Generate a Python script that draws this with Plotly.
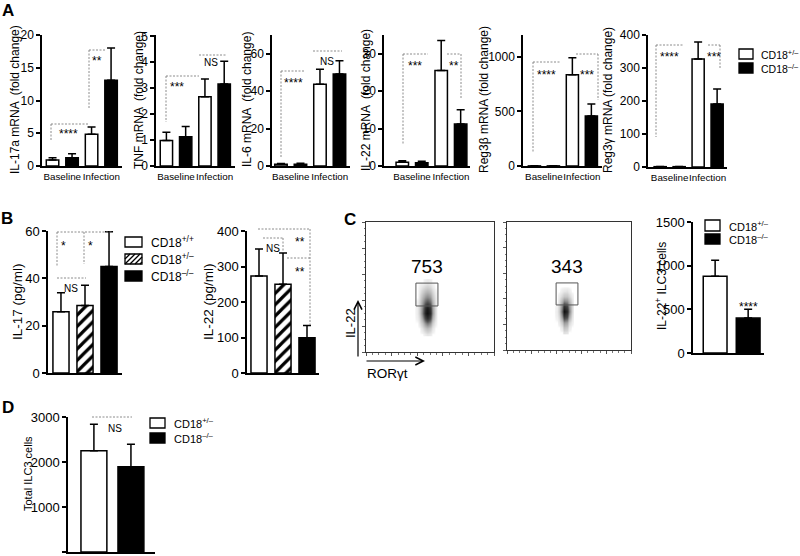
import plotly.graph_objects as go

W, H = 800, 556
def px(x): return x / W
def py(y): return 1 - y / H

FONT = "Liberation Sans, Arial, Helvetica, sans-serif"

# ---------------- data ----------------
GROUPS_A = ["Baseline", "Infection"]

IL17A_HET = [0.9, 4.85];   IL17A_HET_ERR = [0.35, 1.1]
IL17A_KO = [1.27, 13.1];   IL17A_KO_ERR = [0.6, 4.9]
TNF_HET = [0.98, 2.67];    TNF_HET_ERR = [0.32, 0.68]
TNF_KO = [1.13, 3.16];     TNF_KO_ERR = [0.39, 0.88]
IL6_HET = [1.0, 43.7];     IL6_HET_ERR = [0.4, 8.0]
IL6_KO = [1.0, 49.1];      IL6_KO_ERR = [0.5, 7.1]
IL22_HET = [1.0, 25.5];    IL22_HET_ERR = [0.4, 8.0]
IL22_KO = [0.9, 11.2];     IL22_KO_ERR = [0.4, 3.8]
REG3B_HET = [1.0, 835];    REG3B_HET_ERR = [0.5, 156]
REG3B_KO = [1.0, 459];     REG3B_KO_ERR = [0.5, 110]
REG3G_HET = [1.0, 327];    REG3G_HET_ERR = [0.5, 52]
REG3G_KO = [1.0, 191];     REG3G_KO_ERR = [0.5, 45]

GENO_B = ["CD18+/+", "CD18+/–", "CD18–/–"]
IL17_PG = [25.9, 28.5, 45.0];  IL17_PG_ERR = [8.0, 8.6, 14.7]
IL22_PG = [273, 250, 99];      IL22_PG_ERR = [76, 88, 35]

GENO_CD = ["CD18+/–", "CD18–/–"]
IL22_ILC3 = [880, 400];        IL22_ILC3_ERR = [182, 102]
TOTAL_ILC3 = [2250, 1895];     TOTAL_ILC3_ERR = [587, 497]

GATE_COUNTS = ["753", "343"]

# flow density (approximate), rows = FLOW_Y ascending
FLOW_X = [1.9, 2.0, 2.1, 2.2, 2.3, 2.4, 2.5, 2.6, 2.7, 2.8, 2.9]
FLOW_Y = [0.7, 0.9, 1.1, 1.3, 1.5, 1.7, 1.9, 2.1, 2.3, 2.5, 2.7]
FLOW1_Z = [
    [0, 0, 0, 0, .03, .05, .03, 0, 0, 0, 0],
    [0, 0, 0, .06, .16, .20, .14, .04, 0, 0, 0],
    [0, 0, .04, .16, .38, .46, .34, .12, .02, 0, 0],
    [0, .02, .08, .32, .70, .82, .62, .24, .05, 0, 0],
    [0, .03, .12, .45, .92, 1.0, .82, .34, .07, 0, 0],
    [0, .03, .12, .42, .85, .95, .75, .32, .07, 0, 0],
    [0, .02, .10, .32, .55, .62, .50, .24, .05, 0, 0],
    [0, 0, .07, .22, .36, .40, .33, .16, .04, 0, 0],
    [0, 0, .04, .13, .22, .25, .20, .10, .02, 0, 0],
    [0, 0, .02, .06, .10, .12, .09, .04, 0, 0, 0],
    [0, 0, 0, 0, .02, .03, .02, 0, 0, 0, 0],
]
FLOW2_Z = [
    [0, 0, 0, 0, .06, .05, 0, 0, 0, 0, 0],
    [0, 0, 0, .04, .18, .15, .03, 0, 0, 0, 0],
    [0, 0, .03, .14, .35, .30, .10, .02, 0, 0, 0],
    [0, .02, .08, .36, .75, .65, .30, .06, 0, 0, 0],
    [0, .03, .12, .52, 1.0, .85, .45, .10, 0, 0, 0],
    [0, .02, .10, .42, .80, .68, .38, .10, 0, 0, 0],
    [0, 0, .06, .24, .42, .38, .24, .07, 0, 0, 0],
    [0, 0, .03, .10, .16, .16, .10, .03, 0, 0, 0],
    [0, 0, 0, .03, .05, .06, .03, 0, 0, 0, 0],
    [0, 0, 0, 0, 0, 0, 0, 0, 0, 0, 0],
    [0, 0, 0, 0, 0, 0, 0, 0, 0, 0, 0],
]
GATE1 = [1.95, 2.81, 1.77, 2.65]
GATE2 = [1.98, 2.86, 1.76, 2.62]

# ---------------- figure ----------------
fig = go.Figure()
layout = {}

def ref(n):
    return "" if n == 1 else str(n)

def add_bar_axes(n, xdom, ydom, xrange, yrange, dtick, xcats, show_x_labels, tsize):
    layout["xaxis" + ref(n)] = dict(
        domain=[px(xdom[0]), px(xdom[1])], anchor="y" + ref(n), range=xrange,
        type="category", categoryorder="array", categoryarray=xcats,
        showline=True, linecolor="black", linewidth=1.5, ticks="", tickangle=0,
        showgrid=False, zeroline=False, showticklabels=show_x_labels, automargin=False,
        tickfont=dict(size=9.8, color="black"), fixedrange=True)
    layout["yaxis" + ref(n)] = dict(
        domain=[py(ydom[1]), py(ydom[0])], anchor="x" + ref(n), range=yrange,
        dtick=dtick, tick0=0, ticks="outside", ticklen=4, tickwidth=1.5,
        tickcolor="black", showline=True, linecolor="black", linewidth=1.5,
        showgrid=False, zeroline=False, tickfont=dict(size=tsize, color="black"),
        automargin=False, fixedrange=True)

def add_bar(n, x, y, err, fill, width, offset, pattern=None):
    marker = dict(color=fill, line=dict(color="black", width=1.5))
    if pattern:
        marker["pattern"] = pattern
    fig.add_trace(go.Bar(
        x=x, y=y, width=width, offset=offset, marker=marker,
        error_y=dict(type="data", array=err, arrayminus=[0] * len(err),
                     symmetric=False, color="black", thickness=1.5, width=4),
        xaxis="x" + ref(n), yaxis="y" + ref(n), showlegend=False, hoverinfo="skip"))

# Panel A
A_PANELS = [
    (1, (42, 122), (35, 166), [-0.52, 1.53], [0, 20], 5, IL17A_HET, IL17A_HET_ERR, IL17A_KO, IL17A_KO_ERR),
    (2, (156, 235), (35, 166), [-0.52, 1.53], [0, 5.05], 1, TNF_HET, TNF_HET_ERR, TNF_KO, TNF_KO_ERR),
    (3, (272, 350), (35, 166), [-0.48, 1.52], [0, 70], 20, IL6_HET, IL6_HET_ERR, IL6_KO, IL6_KO_ERR),
    (4, (384, 470), (35, 166), [-0.72, 1.49], [0, 35], 10, IL22_HET, IL22_HET_ERR, IL22_KO, IL22_KO_ERR),
    (5, (523, 602), (35, 166), [-0.55, 1.53], [0, 1200], 500, REG3B_HET, REG3B_HET_ERR, REG3B_KO, REG3B_KO_ERR),
    (6, (648, 727), (35, 167), [-0.57, 1.51], [0, 400], 100, REG3G_HET, REG3G_HET_ERR, REG3G_KO, REG3G_KO_ERR),
]
for n, xd, yd, xr, yr, dt, het, heterr, ko, koerr in A_PANELS:
    add_bar_axes(n, xd, yd, xr, yr, dt, GROUPS_A, True, 12)
    add_bar(n, GROUPS_A, het, heterr, "white", 0.32, -0.41)
    add_bar(n, GROUPS_A, ko, koerr, "black", 0.32, 0.09)

# Panel B
HATCH = dict(shape="/", fgcolor="black", bgcolor="white", size=8, solidity=0.4)
B_FILLS = [("white", None), ("white", HATCH), ("black", None)]
for n, xd, xr, yr, dt, vals, errs in [
        (7, (48, 122), [-0.54, 2.54], [0, 60], 20, IL17_PG, IL17_PG_ERR),
        (8, (247, 319), [-0.5, 2.5], [0, 400], 100, IL22_PG, IL22_PG_ERR)]:
    add_bar_axes(n, xd, (231, 373), xr, yr, dt, GENO_B, False, 13)
    for i, g in enumerate(GENO_B):
        add_bar(n, [g], [vals[i]], [errs[i]], B_FILLS[i][0], 0.67, -0.335, B_FILLS[i][1])

# Panel C bar
add_bar_axes(11, (693, 764), (222, 353), [-0.67, 1.48], [0, 1500], 500, GENO_CD, False, 13)
for i, g in enumerate(GENO_CD):
    add_bar(11, [g], [IL22_ILC3[i]], [IL22_ILC3_ERR[i]], ["white", "black"][i], 0.72, -0.36)

# Panel D
add_bar_axes(12, (68, 155), (417, 552), [-0.70, 1.65], [0, 3000], 1000, GENO_CD, False, 13)
for i, g in enumerate(GENO_CD):
    add_bar(12, [g], [TOTAL_ILC3[i]], [TOTAL_ILC3_ERR[i]], ["white", "black"][i], 0.70, -0.35)

# Panel C flow plots
GREYS = [[0, "#ffffff"], [0.01, "#f2f2f2"], [0.1, "#d4d4d4"], [0.3, "#a4a4a4"],
         [0.6, "#505050"], [1, "#101010"]]
for n, xd, yd, z in [(9, (366, 494), (222, 352), FLOW1_Z), (10, (507, 631), (222, 350), FLOW2_Z)]:
    common = dict(range=[0, 5], showline=True, mirror=True, linecolor="#333", linewidth=1,
                  ticks="outside", ticklen=3, tickwidth=1, tickcolor="#555", dtick=1,
                  showticklabels=False, showgrid=False, zeroline=False, fixedrange=True,
                  automargin=False,
                  minor=dict(ticks="outside", ticklen=1.5, tickcolor="#777", dtick=0.25))
    layout["xaxis" + ref(n)] = dict(domain=[px(xd[0]), px(xd[1])], anchor="y" + ref(n), **common)
    layout["yaxis" + ref(n)] = dict(domain=[py(yd[1]), py(yd[0])], anchor="x" + ref(n), **common)
    fig.add_trace(go.Heatmap(x=FLOW_X, y=FLOW_Y, z=z, zsmooth="best", colorscale=GREYS,
                             zmin=0, zmax=1, showscale=False, hoverinfo="skip",
                             xaxis="x" + ref(n), yaxis="y" + ref(n)))

shapes = []
annotations = []

def note(x, y, text, size, angle=0, xanchor="center"):
    annotations.append(dict(xref="paper", yref="paper", x=px(x), y=py(y), text=text,
                            textangle=angle, showarrow=False, xanchor=xanchor,
                            yanchor="middle", font=dict(size=size, color="black")))

# gates and counts
for n, g, cnt in [(9, GATE1, GATE_COUNTS[0]), (10, GATE2, GATE_COUNTS[1])]:
    shapes.append(dict(type="rect", xref="x" + ref(n), yref="y" + ref(n),
                       x0=g[0], x1=g[1], y0=g[2], y1=g[3],
                       line=dict(color="#555", width=1)))
    annotations.append(dict(xref="x" + ref(n), yref="y" + ref(n), x=(g[0] + g[1]) / 2,
                            y=3.27, text=cnt, showarrow=False, xanchor="center",
                            yanchor="middle", font=dict(size=19, color="black")))

# significance brackets (dotted lines, figure px)
BRACKETS = [
    (51, 124, 88, 124), (51, 124, 51, 140), (89, 50, 105, 50), (89, 50, 89, 109),
    (166, 76, 199, 76), (166, 76, 166, 122), (199, 55, 227, 55),
    (281, 71, 305, 71), (281, 71, 281, 157), (313, 51, 342, 51),
    (403, 54, 428, 54), (403, 54, 403, 144), (447, 54, 461, 54), (461, 54, 461, 98),
    (533, 62, 560, 62), (533, 62, 533, 152), (576, 54, 598, 54), (598, 54, 598, 100),
    (656, 45, 683, 45), (656, 45, 656, 137), (708, 45, 720, 45), (720, 45, 720, 68),
    (57, 232, 112, 232), (57, 232, 57, 267), (84, 232, 84, 264), (57, 278, 86, 278),
    (258, 229, 310, 229), (310, 229, 310, 325), (263, 238, 283, 238), (283, 238, 283, 252),
    (287, 258, 310, 258),
    (92, 417, 132, 417),
]
for x0, y0, x1, y1 in BRACKETS:
    shapes.append(dict(type="line", xref="paper", yref="paper", x0=px(x0), y0=py(y0),
                       x1=px(x1), y1=py(y1),
                       line=dict(color="#808080", width=0.9, dash="2px,1.5px")))

SIG = [
    (68, 130, "****"), (97, 57, "**"),
    (177, 83, "***"), (211, 63, "NS"),
    (293, 79, "****"), (327, 62, "NS"),
    (415, 62, "***"), (454, 62, "**"),
    (546, 71, "****"), (587, 71, "***"),
    (669, 53, "****"), (714, 53, "***"),
    (63, 242, "*"), (90, 242, "*"), (71, 288, "NS"),
    (300, 238, "**"), (273, 248, "NS"), (300, 268, "**"),
    (748, 303, "****"),
    (115, 428, "NS"),
]
for x, y, t in SIG:
    star = t.startswith("*")
    note(x, y + (4 if star else 0), t, 12 if star else 10)

# axis titles (rotated)
TITLES = [
    (15, 100, "IL-17a mRNA  (fold change)", 12),
    (139, 100, "TNF mRNA  (fold change)", 12),
    (247, 100, "IL-6 mRNA  (fold change)", 12),
    (366, 100, "IL-22 mRNA  (fold change)", 12),
    (484, 100, "Reg3β mRNA (fold change)", 12),
    (608, 100, "Reg3γ mRNA (fold change)", 12),
    (17, 302, "IL-17 (pg/ml)", 13.5),
    (208, 302, "IL-22 (pg/ml)", 13.5),
    (661, 286, "IL-22<sup>+</sup> ILC3 cells", 12),
    (28, 474, "Total ILC3 cells", 11),
    (350, 323, "IL-22", 13),
]
for x, y, t, s in TITLES:
    note(x, y, t, s, angle=-90)
note(387, 373, "RORγt", 13.5)

# flow axis arrows
annotations.append(dict(xref="paper", yref="paper", x=px(358), y=py(300), ax=0, ay=58,
                        text="", showarrow=True, arrowhead=5, arrowsize=1.3,
                        arrowwidth=1.2, arrowcolor="black"))
annotations.append(dict(xref="paper", yref="paper", x=px(425), y=py(361), ax=-60, ay=0,
                        text="", showarrow=True, arrowhead=5, arrowsize=1.3,
                        arrowwidth=1.2, arrowcolor="black"))

# panel letters
for x, y, t in [(8, 10, "A"), (7, 218, "B"), (350, 219, "C"), (8, 407, "D")]:
    note(x, y, "<b>%s</b>" % t, 17)

# legends (boxes + labels)
def hatch_path(x0, y0, x1, y1, step):
    segs = []
    w, h = x1 - x0, y1 - y0
    c = -h
    while c < w:
        ax, ay = x0 + c, y1
        bx, by = x0 + c + h, y0
        if ax < x0:
            ay = y1 - (x0 - ax); ax = x0
        if bx > x1:
            by = y0 + (bx - x1); bx = x1
        segs.append("M%.4f,%.4f L%.4f,%.4f" % (px(ax), py(ay), px(bx), py(by)))
        c += step
    return " ".join(segs)

LEGENDS = [
    (739, 753, [(49, 59, "white", False), (63, 73, "black", False)], 759,
     ["CD18<sup>+/–</sup>", "CD18<sup>–/–</sup>"], 10.5),
    (125, 142, [(237, 247, "white", False), (254, 264, "white", True), (271, 281, "black", False)], 149,
     ["CD18<sup>+/+</sup>", "CD18<sup>+/–</sup>", "CD18<sup>–/–</sup>"], 12),
    (705, 720, [(220, 231, "white", False), (234, 244, "black", False)], 727,
     ["CD18<sup>+/–</sup>", "CD18<sup>–/–</sup>"], 11),
    (150, 165, [(418, 428, "white", False), (433, 443, "black", False)], 172,
     ["CD18<sup>+/–</sup>", "CD18<sup>–/–</sup>"], 11),
]
for bx0, bx1, boxes, tx, texts, fs in LEGENDS:
    for (y0, y1, fill, hatch), t in zip(boxes, texts):
        shapes.append(dict(type="rect", xref="paper", yref="paper", x0=px(bx0), x1=px(bx1),
                           y0=py(y1), y1=py(y0), fillcolor=fill,
                           line=dict(color="black", width=1.3)))
        if hatch:
            shapes.append(dict(type="path", xref="paper", yref="paper",
                               path=hatch_path(bx0, y0, bx1, y1, 5),
                               line=dict(color="black", width=1.3)))
        note(tx, (y0 + y1) / 2, t, fs, xanchor="left")

layout.update(dict(
    template="none",
    width=W, height=H, margin=dict(l=0, r=0, t=0, b=0, pad=0), autosize=False,
    paper_bgcolor="white", plot_bgcolor="white",
    font=dict(family=FONT, color="black"),
    barmode="overlay", showlegend=False,
    shapes=shapes, annotations=annotations,
))
fig.update_layout(**layout)
fig.write_html("out.html", config={"displayModeBar": False},
               post_script="document.body.style.margin='0px';document.body.style.padding='0px';")
